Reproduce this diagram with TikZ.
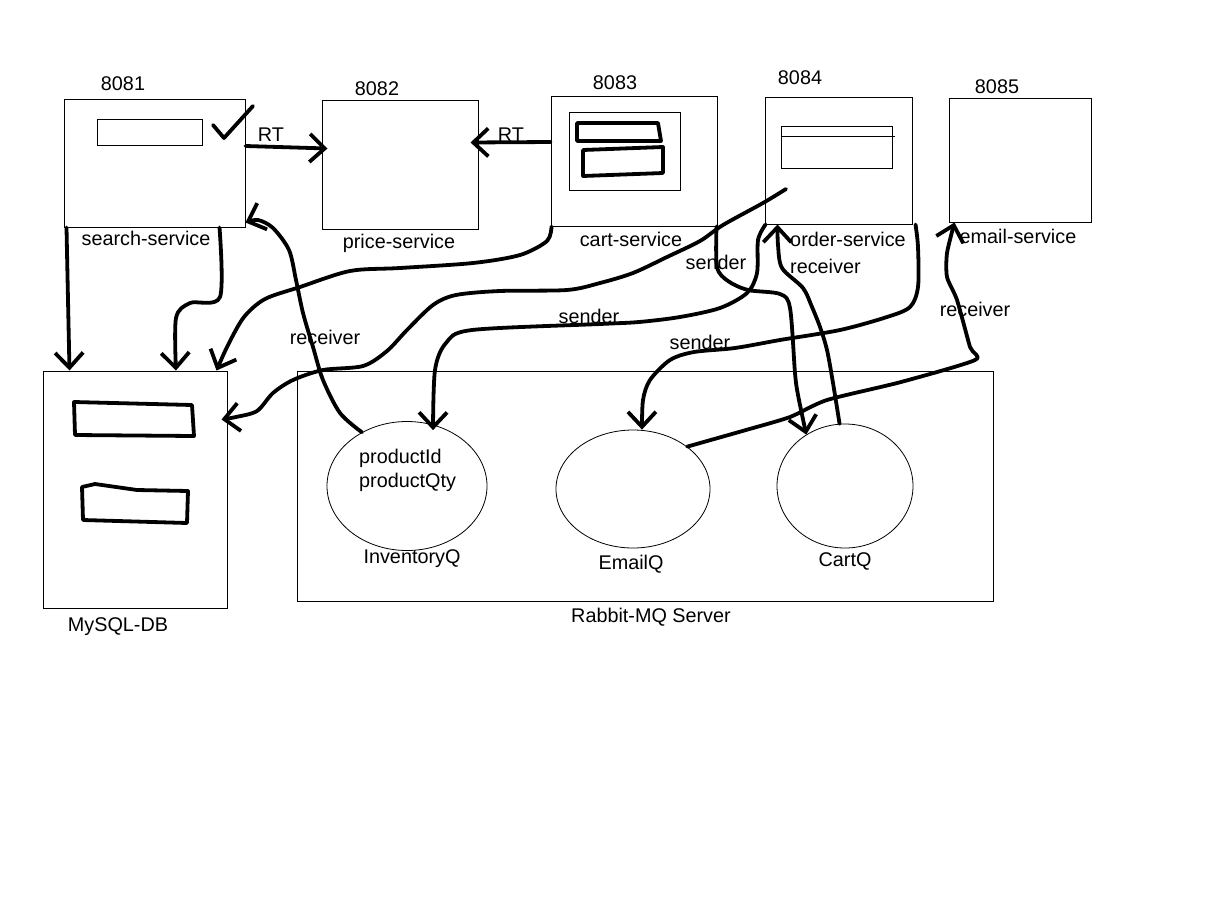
\documentclass[tikz,border=0pt]{standalone}
\usepackage{fontspec}
\setmainfont{Liberation Sans}
\usetikzlibrary{arrows.meta,shapes.geometric}
\begin{document}
\begin{tikzpicture}[x=1pt,y=-1pt,
  box/.style={draw, line width=1pt, rectangle, inner sep=0pt},
  qell/.style={draw, line width=0.8pt, ellipse, inner sep=0pt},
  lbl/.style={font=\fontsize{19.8}{22}\selectfont, inner sep=0pt},
  wire/.style={line width=3.8pt, line cap=round, line join=round},
  arr/.style={wire, -{Straight Barb[length=15pt,width=28pt]}},
  thinline/.style={line width=1pt}]
\useasboundingbox[fill=white] (0,0) rectangle (1218,908);

% service boxes
\node[box, minimum width=181pt, minimum height=128pt] (search) at (154.5,163) {};
\node[box, minimum width=156pt, minimum height=129pt] (price) at (400,164.5) {};
\node[box, minimum width=166pt, minimum height=130pt] (cart) at (634,161) {};
\node[box, minimum width=147pt, minimum height=127pt] (order) at (838.5,160.5) {};
\node[box, minimum width=142pt, minimum height=124pt] (email) at (1020,160) {};
\node[box, minimum width=184pt, minimum height=237pt] (mysql) at (135,489.5) {};
\node[box, minimum width=696pt, minimum height=230pt] (rabbit) at (645,486) {};

% queues
\node[qell, minimum width=160pt, minimum height=129pt] (invq) at (407,486) {};
\node[qell, minimum width=154pt, minimum height=118pt] (emailq) at (633,489) {};
\node[qell, minimum width=136pt, minimum height=124pt] (cartq) at (845,486) {};

% inner details
\draw[thinline] (97,119) rectangle (202,145);
\draw[thinline] (569,112) rectangle (680,190);
\draw[thinline] (781,126) rectangle (892,168);
\draw[thinline] (781,136) -- (895,136);
\draw[wire] (577,123) -- (658,123) -- (661,141) -- (577,141) -- cycle;
\draw[wire] (583,150) -- (663,147) -- (663,173) -- (583,176) -- cycle;
\draw[wire] (74,402) -- (192,405) -- (194,436) -- (75,435) -- cycle;
\draw[wire] (82,487) -- (95,484) -- (137,490) -- (188,491) -- (187,523) -- (83,520) -- cycle;
\draw[wire] (213,125) -- (224,138) -- (253,106);

% labels
\node[lbl] (p8081) at (123,84) {8081};
\node[lbl] (p8082) at (377,89) {8082};
\node[lbl] (p8083) at (615,83) {8083};
\node[lbl] (p8084) at (800,78) {8084};
\node[lbl] (p8085) at (997,87) {8085};
\node[lbl] (rt1) at (271,135) {RT};
\node[lbl] (rt2) at (511,135) {RT};
\node[lbl] (nsearch) at (146,238) {search-service};
\node[lbl] (nprice) at (399,243) {price-service};
\node[lbl] (ncart) at (631,239) {cart-service};
\node[lbl] (norder) at (848,239) {order-service};
\node[lbl, anchor=west] (orecv) at (790,266) {receiver};
\node[lbl] (nemail) at (1018,236) {email-service};
\node[lbl] (snd1) at (716,262) {sender};
\node[lbl] (snd2) at (589,316) {sender};
\node[lbl] (snd3) at (700,342) {sender};
\node[lbl] (rcv1) at (325,337) {receiver};
\node[lbl] (rcv2) at (975,309) {receiver};
\node[lbl] (nmysql) at (118,627) {MySQL-DB};
\node[lbl, anchor=west] (pid) at (359,458) {productId};
\node[lbl, anchor=west] (pqty) at (359,482) {productQty};
\node[lbl] (ninvq) at (412,559) {InventoryQ};
\node[lbl] (nemailq) at (631,564) {EmailQ};
\node[lbl] (ncartq) at (845,561) {CartQ};
\node[lbl] (nrabbit) at (651,617) {Rabbit-MQ Server};

% RT arrows
\draw[arr] ([yshift=17pt]search.east) -- ([xshift=6pt,yshift=16pt]price.west);
\draw[arr] ([yshift=19pt]cart.west) -- ([xshift=-8pt,yshift=22pt]price.east);

% search -> MySQL
\draw[arr] ([xshift=3pt]search.south west) .. controls (68,300) .. ([xshift=27pt]mysql.north west);
\draw[arr] plot[smooth, tension=0.5] coordinates {([xshift=-26pt]search.south east) (220,297) (190,303) (176,318) ([xshift=41pt]mysql.north)};

% cart -> MySQL
\draw[arr] plot[smooth, tension=0.5] coordinates {([xshift=1pt]cart.south west) (547,241) (520,255) (473,263) (400,268) (350,271) (300,287) (265,299) (244,317) (228,345) ([xshift=-11pt]mysql.north east)};

% order -> MySQL
\coordinate (ostart) at (786,189);
\draw[arr] plot[smooth, tension=0.5] coordinates {(ostart) (763,203) (723,225) (700,241) (667,257) (633,273) (600,283) (567,290) (500,291) (456,295) (433,305) (407,330) (387,351) (363,366) (323,370) (293,380) (273,393) (257,411) (236,417) ([shift={(-6pt,-49pt)}]mysql.north east)};

% InventoryQ -> search (receiver)
\draw[arr] plot[smooth, tension=0.5] coordinates {(invq.130) (340,413) (323,380) (313,347) (303,313) (296,280) (289,250) (273,228) (258,220) ([yshift=5pt]search.south east)};

% order -> InventoryQ (sender)
\draw[arr] plot[smooth, tension=0.5] coordinates {([xshift=1pt]order.south west) (758,240) (757,273) (747,293) (720,308) (680,317) (639,322) (600,324) (472,330) (446,343) (435,370) ([xshift=26pt,yshift=-9pt]invq.north)};

% order -> EmailQ (sender)
\draw[arr] plot[smooth, tension=0.5] coordinates {([xshift=3pt]order.south east) (918,247) (918,287) (910,307) (887,317) (840,330) (780,340) (735,348) (694,352) (670,360) (650,380) (643,400) ([xshift=9pt]emailq.north)};

% cart -> CartQ (sender)
\draw[arr] plot[smooth, tension=0.5] coordinates {([xshift=-1pt]cart.south east) (717,267) (728,281) (748,290) (780,294) (790,308) (795,373) (798,395) (cartq.127)};

% CartQ -> order (receiver)
\draw[arr] plot[smooth, tension=0.5] coordinates {(cartq.95) (833,383) (827,350) (820,327) (812,307) (803,288) (782,268) (778,245) ([xshift=13pt]order.south west)};

% EmailQ -> email (receiver)
\draw[arr] plot[smooth, tension=0.4] coordinates {(emailq.38) (746,430) (790,417) (827,400) (901,382) (975,360) (970,347) (957,300) (947,277) (947,253) ([xshift=6pt]email.south west)};
\end{tikzpicture}
\end{document}
